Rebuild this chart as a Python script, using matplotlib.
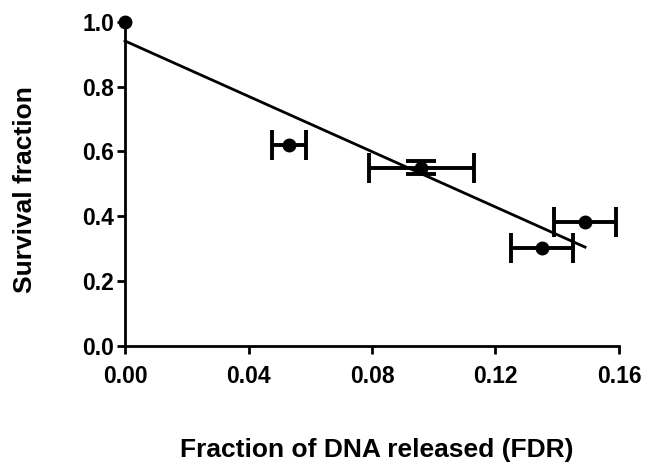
import matplotlib.pyplot as plt
import numpy as np

# FDR vs survival fraction
fdr = [0.0, 0.053, 0.096, 0.149, 0.135]
fdr_err = [0.0, 0.0055, 0.017, 0.010, 0.010]
survival = [1.0, 0.621, 0.550, 0.382, 0.303]
survival_err = [0.0, 0.0, 0.019, 0.0, 0.0]

xticks = [0.00, 0.04, 0.08, 0.12, 0.16]
yticks = [0.0, 0.2, 0.4, 0.6, 0.8, 1.0]

plt.rcParams['font.family'] = ['Liberation Sans', 'DejaVu Sans']
plt.rcParams['font.weight'] = 'bold'

fig = plt.figure(figsize=(6.46, 4.65), dpi=100)
ax = fig.add_axes([0.1935, 0.2559, 0.7647, 0.6974])

# linear regression line
slope, intercept = np.polyfit(fdr, survival, 1)
xs = np.array([0.0, max(fdr)])
ax.plot(xs, slope * xs + intercept, color='black', lw=2, clip_on=False)

# points with error bars (skip caps where error is zero)
for x, xe, y, ye in zip(fdr, fdr_err, survival, survival_err):
    if xe == 0 and ye == 0:
        ax.plot(x, y, 'o', color='black', ms=9, clip_on=False, zorder=3)
        continue
    ax.errorbar(x, y, xerr=xe if xe else None, yerr=ye if ye else None,
                fmt='o', color='black', ms=9, elinewidth=2.8, capsize=11,
                capthick=2.8, clip_on=False, zorder=3)

ax.set_xlim(0, 0.16)
ax.set_ylim(0, 1.0)
ax.set_xticks(xticks)
ax.set_xticklabels(['%.2f' % v for v in xticks])
ax.set_yticks(yticks)
ax.set_yticklabels(['%.1f' % v for v in yticks])

for s in ['top', 'right']:
    ax.spines[s].set_visible(False)
for s in ['left', 'bottom']:
    ax.spines[s].set_linewidth(2)
ax.tick_params(width=2, length=6, labelsize=16.5)
ax.tick_params(axis='x', pad=8)
ax.tick_params(axis='y', pad=2)

ax.set_xlabel('Fraction of DNA released (FDR)', fontsize=19, fontweight='bold')
ax.set_ylabel('Survival fraction', fontsize=19, fontweight='bold')
ax.xaxis.set_label_coords(0.510, -0.284)
ax.yaxis.set_label_coords(-0.178, 0.481)

fig.savefig('out.png', dpi=100)
